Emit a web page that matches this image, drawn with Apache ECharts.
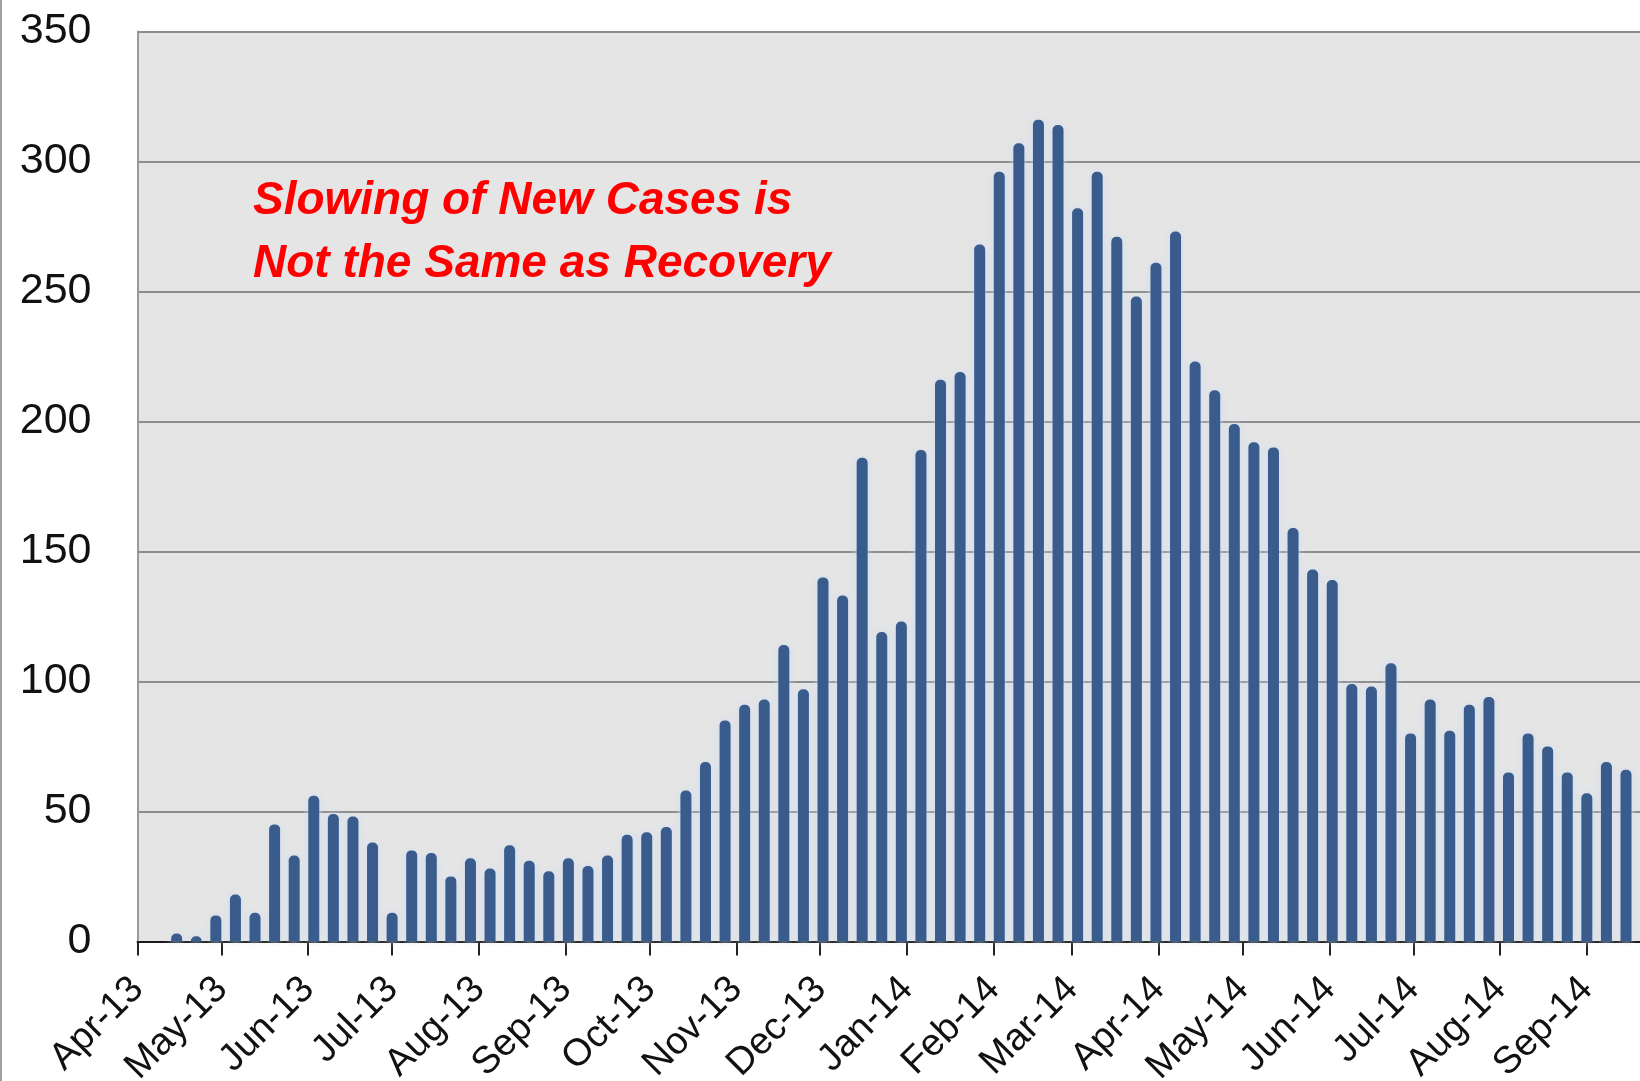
<!DOCTYPE html>
<html><head><meta charset="utf-8">
<script src="https://cdn.jsdelivr.net/npm/echarts@6/dist/echarts.min.js"></script>
<style>html,body{margin:0;padding:0;background:#fff}#c{width:1640px;height:1081px}</style>
</head><body><div id="c"></div>
<script>
// Week start dates (x positions of bars)
const weeks = [
 '2013-04-15','2013-04-22','2013-04-29','2013-05-06','2013-05-13','2013-05-20','2013-05-27',
 '2013-06-03','2013-06-10','2013-06-17','2013-06-24','2013-07-01','2013-07-08','2013-07-15',
 '2013-07-22','2013-07-29','2013-08-05','2013-08-12','2013-08-19','2013-08-26','2013-09-02',
 '2013-09-09','2013-09-16','2013-09-23','2013-09-30','2013-10-07','2013-10-14','2013-10-21',
 '2013-10-28','2013-11-04','2013-11-11','2013-11-18','2013-11-25','2013-12-02','2013-12-09',
 '2013-12-16','2013-12-23','2013-12-30','2014-01-06','2014-01-13','2014-01-20','2014-01-27',
 '2014-02-03','2014-02-10','2014-02-17','2014-02-24','2014-03-03','2014-03-10','2014-03-17',
 '2014-03-24','2014-03-31','2014-04-07','2014-04-14','2014-04-21','2014-04-28','2014-05-05',
 '2014-05-12','2014-05-19','2014-05-26','2014-06-02','2014-06-09','2014-06-16','2014-06-23',
 '2014-06-30','2014-07-07','2014-07-14','2014-07-21','2014-07-28','2014-08-04','2014-08-11',
 '2014-08-18','2014-08-25','2014-09-01','2014-09-08','2014-09-15'
];
// Weekly new cases
const newCases = [
 3,2,10,18,11,45,33,56,49,48,38,11,35,34,25,32,28,37,31,27,32,29,33,41,42,44,58,69,85,91,
 93,114,97,140,133,186,119,123,189,216,219,268,296,307,316,314,282,296,271,248,261,273,223,212,199,192,190,159,143,139,
 99,98,107,80,93,81,91,94,65,80,75,65,57,69,66
];
// Month tick positions and labels
const monthTicks = [
 '2013-04-01','2013-05-01','2013-06-01','2013-07-01','2013-08-01','2013-09-01','2013-10-01',
 '2013-11-01','2013-12-01','2014-01-01','2014-02-01','2014-03-01','2014-04-01','2014-05-01',
 '2014-06-01','2014-07-01','2014-08-01','2014-09-01'
];
const monthLabels = ['Apr-13','May-13','Jun-13','Jul-13','Aug-13','Sep-13','Oct-13','Nov-13','Dec-13',
 'Jan-14','Feb-14','Mar-14','Apr-14','May-14','Jun-14','Jul-14','Aug-14','Sep-14'];
const yTicks = [0,50,100,150,200,250,300,350];
const annotation = ['Slowing of New Cases is','Not the Same as Recovery'];

const DAY = 86400000;
function toDay(s){const p=s.split('-').map(Number);return Math.round(Date.UTC(p[0],p[1]-1,p[2])/DAY);}
const tickDays = monthTicks.map(toDay);

const chart = echarts.init(document.getElementById('c'), null, {renderer:'canvas'});
const FONT = '"Liberation Sans", Arial, sans-serif';
chart.setOption({
  animation:false,
  backgroundColor:'#ffffff',
  grid:{left:137.5, right:0, top:31.4, bottom:139.6, show:true, backgroundColor:'#e5e5e5', borderWidth:0,
        containLabel:false, outerBoundsMode:'none'},
  xAxis:{
    type:'value', min:toDay('2013-04-01'), max:toDay('2014-09-20'),
    axisLine:{show:true, lineStyle:{color:'#1a1a1a', width:2}},
    axisTick:{show:true, customValues:tickDays, length:14, lineStyle:{color:'#222', width:2}},
    axisLabel:{customValues:tickDays, rotate:45, margin:42, fontSize:38, color:'#111', fontFamily:FONT,
      formatter:function(v){const i=tickDays.indexOf(v);return i>=0?monthLabels[i]:'';}},
    splitLine:{show:false}
  },
  yAxis:{
    type:'value', min:yTicks[0], max:yTicks[yTicks.length-1], interval:yTicks[1]-yTicks[0],
    axisLine:{show:true, lineStyle:{color:'#9a9a9a', width:2}},
    axisTick:{show:false},
    splitLine:{show:true, lineStyle:{color:'#8c8c8c', width:2}},
    axisLabel:{fontSize:43, color:'#111', margin:46, fontFamily:FONT}
  },
  series:[{
    type:'bar',
    data:weeks.map((w,i)=>[toDay(w), newCases[i]]),
    barWidth:11,
    itemStyle:{color:'#3a5c8c', borderRadius:[5,5,0,0], shadowColor:'rgba(205,222,245,0.95)', shadowBlur:7}
  }],
  graphic:[
    {type:'rect', left:0, top:0, shape:{width:2, height:1081}, style:{fill:'#a0a0a0'}, silent:true},
    {type:'text', x:253, y:170, silent:true,
     style:{text:annotation.join('\n'), fill:'#ff0000', fontStyle:'italic', fontWeight:'bold',
            fontSize:46, lineHeight:63, fontFamily:FONT}}
  ]
});
</script></body></html>
